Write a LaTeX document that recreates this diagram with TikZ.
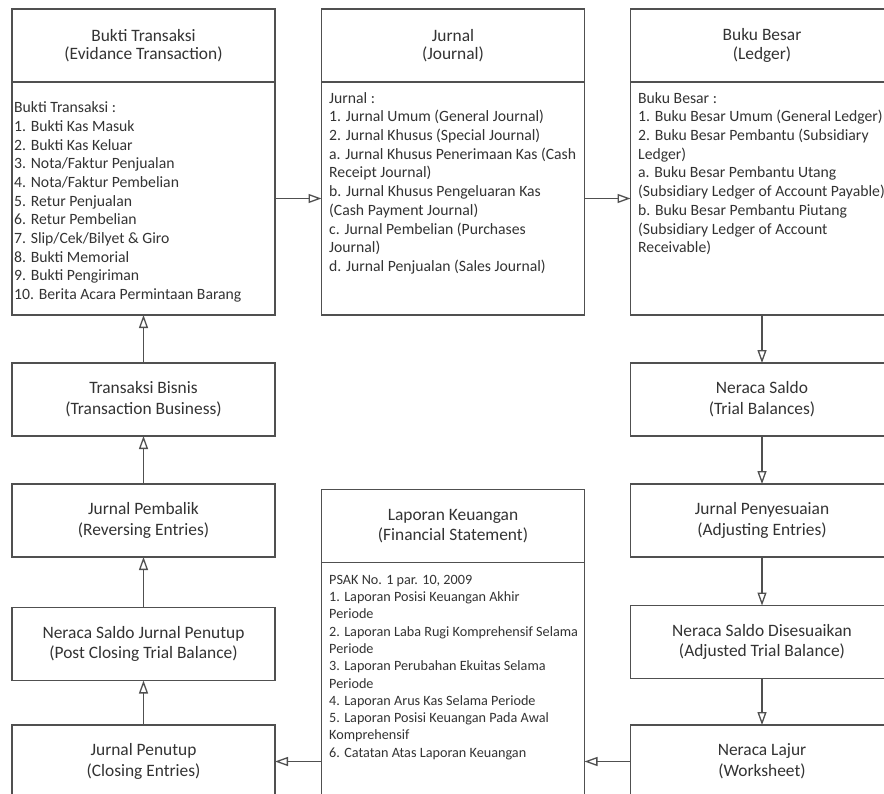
\documentclass[tikz,border=0pt]{standalone}
\usepackage{fontspec}
\setmainfont{Carlito}
\usetikzlibrary{arrows.meta, positioning}
\definecolor{linegray}{HTML}{505050}
\definecolor{txtgray}{HTML}{333333}
\tikzset{>={Triangle[open,length=13pt,width=9pt]}}
\tikzset{
  box/.style={draw=linegray, line width=1.3pt, fill=white, minimum width=263pt,
    inner sep=0pt, outer sep=0pt, align=center, text=txtgray},
  head/.style={box, minimum height=73pt, font=\fontsize{17.4}{18.5}\selectfont},
  stage/.style={box, minimum height=73pt, font=\fontsize{17.4}{20.7}\selectfont},
  body/.style={box, minimum height=233pt},
  list/.style={anchor=north west, align=left, inner sep=0pt, text=txtgray,
    font=\fontsize{15.7}{18.7}\selectfont},
  flow/.style={->, draw=linegray, line width=1.3pt}
}

\begin{document}
\begin{tikzpicture}[x=1pt,y=-1pt]
        \useasboundingbox (0,0) rectangle (884,793);

        % top row
        \node[head] (bukti) at (143.5,45.5) {Bukti Transaksi\\(Evidance Transaction)};
        \node[body, below=0pt of bukti] (buktibody) {};
        \node[head] (jurnal) at (453,45.5) {Jurnal\\(Journal)};
        \node[body, below=0pt of jurnal] (jurnalbody) {};
        \node[head] (buku) at (762,45.5) {Buku Besar\\(Ledger)};
        \node[body, below=0pt of buku] (bukubody) {};

        \node[list] (buktilist) at (14,99.4) {\strut Bukti Transaksi :\\1. Bukti Kas Masuk\\2. Bukti Kas Keluar\\3. Nota/Faktur Penjualan\\4. Nota/Faktur Pembelian\\5. Retur Penjualan\\6. Retur Pembelian\\7. Slip/Cek/Bilyet \& Giro\\8. Bukti Memorial\\9. Bukti Pengiriman\\10. Berita Acara Permintaan Barang};
        \node[list] (jurnallist) at (329,89.9) {\strut Jurnal :\\1. Jurnal Umum (General Journal)\\2. Jurnal Khusus (Special Journal)\\a. Jurnal Khusus Penerimaan Kas (Cash\\Receipt Journal)\\b. Jurnal Khusus Pengeluaran Kas\\(Cash Payment Journal)\\c. Jurnal Pembelian (Purchases\\Journal)\\d. Jurnal Penjualan (Sales Journal)};
        \node[list] (bukulist) at (638,89.9) {\strut Buku Besar :\\1. Buku Besar Umum (General Ledger)\\2. Buku Besar Pembantu (Subsidiary\\Ledger)\\a. Buku Besar Pembantu Utang\\(Subsidiary Ledger of Account Payable)\\b. Buku Besar Pembantu Piutang\\(Subsidiary Ledger of Account\\Receivable)};

        % left column
        \node[stage] (bisnis) at (143.5,399.5) {Transaksi Bisnis\\(Transaction Business)};
        \node[stage] (pembalik) at (143.5,520.5) {Jurnal Pembalik\\(Reversing Entries)};
        \node[stage] (postclosing) at (143.5,644) {Neraca Saldo Jurnal Penutup\\(Post Closing Trial Balance)};
        \node[stage] (penutup) at (143.5,761.5) {Jurnal Penutup\\(Closing Entries)};

        % right column
        \node[stage] (saldo) at (762,399.5) {Neraca Saldo\\(Trial Balances)};
        \node[stage] (penyesuaian) at (762,520.5) {Jurnal Penyesuaian\\(Adjusting Entries)};
        \node[stage] (disesuaikan) at (762,642) {Neraca Saldo Disesuaikan\\(Adjusted Trial Balance)};
        \node[stage] (lajur) at (762,761.5) {Neraca Lajur\\(Worksheet)};

        % financial statement
        \node[stage, font=\fontsize{17.4}{20}\selectfont] (laporan) at (453,526) {Laporan Keuangan\\(Financial Statement)};
        \node[box, minimum height=398pt, below=0pt of laporan] (laporanbody) {};
        \node[list, font=\fontsize{14.2}{17.3}\selectfont] (laporanlist) at (329,571.9) {\strut PSAK No. 1 par. 10, 2009\\1. Laporan Posisi Keuangan Akhir\\Periode\\2. Laporan Laba Rugi Komprehensif Selama\\Periode\\3. Laporan Perubahan Ekuitas Selama\\Periode\\4. Laporan Arus Kas Selama Periode\\5. Laporan Posisi Keuangan Pada Awal\\Komprehensif\\6. Catatan Atas Laporan Keuangan};

        % connectors
        \draw[flow] (buktibody) -- (jurnalbody);
        \draw[flow] (jurnalbody) -- (bukubody);
        \draw[flow] (bukubody) -- (saldo);
        \draw[flow] (saldo) -- (penyesuaian);
        \draw[flow] (penyesuaian) -- (disesuaikan);
        \draw[flow] (disesuaikan) -- (lajur);
        \draw[flow] (lajur) -- (laporanbody);
        \draw[flow] (laporanbody) -- (penutup);
        \draw[flow] (penutup) -- (postclosing);
        \draw[flow] (postclosing) -- (pembalik);
        \draw[flow] (pembalik) -- (bisnis);
        \draw[flow] (bisnis) -- (buktibody);
\end{tikzpicture}
\end{document}
